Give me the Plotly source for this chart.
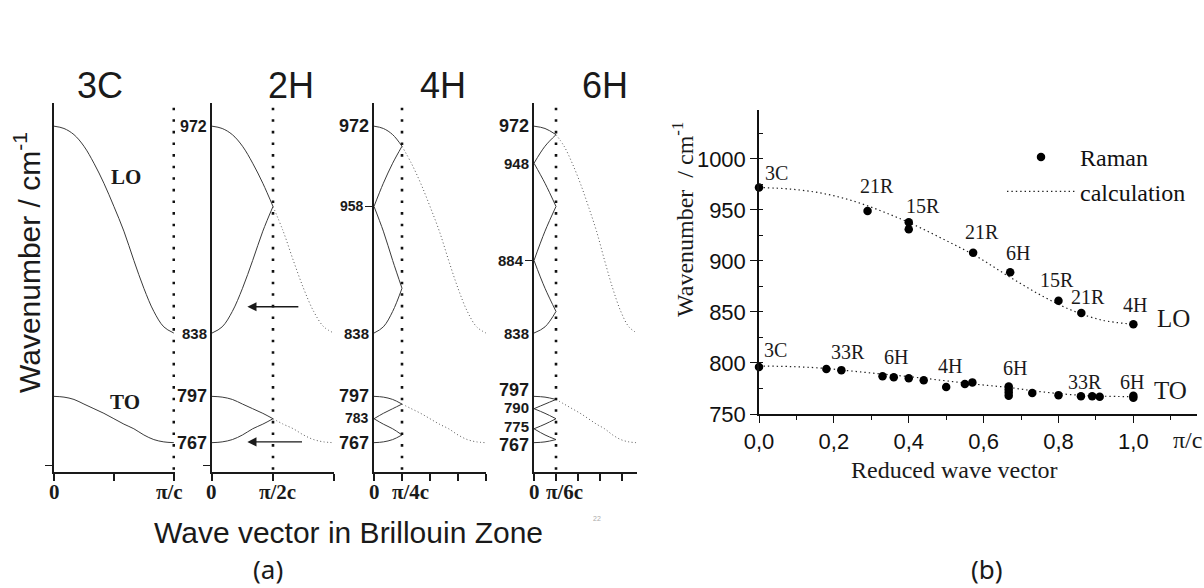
import plotly.graph_objects as go

W, H = 1204, 588
SANS = "Liberation Sans, Arial, sans-serif"
SERIF = "Liberation Serif, Times New Roman, serif"

# ---------------- data ----------------
# reduced wave vector (units of pi/c) sampled in twelfths
q_grid = [0, 1/12, 2/12, 3/12, 4/12, 5/12, 6/12, 7/12, 8/12, 9/12, 10/12, 11/12, 1]
# calculated 3C dispersion of the LO and TO branches (cm-1)
lo_calc = [972, 970.5, 966.5, 959, 948, 935, 920, 904, 885, 867, 852, 842, 838]
to_calc = [797, 796.5, 795, 792, 789, 786, 782.5, 779, 776, 772, 769, 767.5, 767]

polytypes = ["3C", "2H", "4H", "6H"]
layers = [1, 2, 4, 6]
boundary_text = ["π/c", "π/2c", "π/4c", "π/6c"]

# frequency labels on each polytype axis: text, height on axis, font size
freq_labels = {
    "2H": (["972", "838", "797", "767"], [972, 838, 797, 767], [16, 15, 18, 18]),
    "4H": (["972", "958", "838", "797", "783", "767"], [972, 920, 838, 797, 783, 767], [18, 14, 15, 18, 14, 18]),
    "6H": (["972", "948", "884", "838", "797", "790", "775", "767"],
           [972, 948, 885, 838, 797, 790, 776, 767], [18, 15, 15, 15, 18, 15, 15, 18]),
}
freq_label_shift = {"6H": [0, 0, 0, 0, 6, 0, 2, -2]}

# Raman measurements (reduced wave vector, wavenumber)
raman_lo_q = [0.0, 0.29, 0.40, 0.40, 0.572, 0.671, 0.80, 0.861, 1.0]
raman_lo_w = [972, 949, 938, 931, 908, 889, 861, 849, 838]
raman_to_q = [0.0, 0.18, 0.22, 0.33, 0.36, 0.40, 0.44, 0.50, 0.55, 0.57,
              0.667, 0.667, 0.667, 0.667, 0.73, 0.80, 0.86, 0.89, 0.91, 1.0, 1.0]
raman_to_w = [796, 794, 793, 787, 786, 785, 783, 776.5, 779.5, 781,
              777, 774, 771, 768, 770.5, 768.5, 767.5, 767.5, 767, 768, 766]

lo_names = ["3C", "21R", "15R", "21R", "6H", "15R", "21R", "4H"]
lo_name_pos = [(0.048, 986), (0.316, 973.5), (0.438, 954), (0.596, 928.4),
               (0.693, 907.8), (0.797, 881.4), (0.88, 864.7), (1.005, 857)]
to_names = ["3C", "33R", "6H", "4H", "6H", "33R", "6H"]
to_name_pos = [(0.043, 812.7), (0.238, 810.8), (0.366, 805.9), (0.511, 797),
               (0.684, 795), (0.872, 781.4), (0.997, 781.4)]

b_xticks = [0.0, 0.2, 0.4, 0.6, 0.8, 1.0]
b_xticktext = ["0,0", "0,2", "0,4", "0,6", "0,8", "1,0"]
b_yticks = [750, 800, 850, 900, 950, 1000]

# ---------------- layout helpers ----------------
def fx(px):
    return px / W


def fy(py):
    return 1 - py / H


def label(text, x, y, size, family, xref="paper", yref="paper", **kw):
    d = dict(text=text, xref=xref, yref=yref, x=x, y=y, showarrow=False,
             xanchor="center", yanchor="middle",
             font=dict(family=family, size=size, color="#1a1a1a"))
    d.update(kw)
    return d


# panel (a) geometry in pixels: axis left, axis right, x range max
a_panels = {
    "3C": (54, 175, 1.01),
    "2H": (212, 334, 1.0),
    "4H": (374, 486, 1.0),
    "6H": (534, 637, 0.78),
}
a_title_x = {"3C": 99.5, "2H": 291, "4H": 443, "6H": 605}
a_top, a_bottom = 103, 472
a_yrange = [748, 987]
a_xticks = {
    "3C": [0, 0.5, 1],
    "2H": [0, 0.5, 1],
    "4H": [0, 0.25, 0.5, 0.75, 1],
    "6H": [0, 1/6, 2/6, 3/6, 4/6],
}
a_yticks = {"3C": [752], "2H": [752], "4H": [920], "6H": [885]}

CURVE = "#3a3a3a"
fig = go.Figure()
layout = dict(
    template="none",
    width=W, height=H, margin=dict(l=0, r=0, t=0, b=0, pad=0, autoexpand=False),
    paper_bgcolor="white", plot_bgcolor="rgba(0,0,0,0)",
    showlegend=True,
)
annotations = []


def fold(n, values):
    """Zone-folded branches of a dispersion curve for an n-layer polytype."""
    step = 12 // n
    out = []
    for j in range(n):
        idx = range(j * step, (j + 1) * step + 1)
        qs = [q_grid[i] for i in idx]
        vs = [values[i] for i in idx]
        if j % 2 == 0:
            xs = [q - j / n for q in qs]
        else:
            xs = [(j + 1) / n - q for q in qs]
        out.append((xs, vs))
    return out


for k, (name, n, btxt) in enumerate(zip(polytypes, layers, boundary_text)):
    s = "" if k == 0 else str(k + 1)
    left, right, xmax = a_panels[name]
    xa, ya = "x" + s, "y" + s
    layout["xaxis" + s] = dict(
        domain=[fx(left), fx(right)], range=[0, xmax], anchor=ya,
        showline=True, linecolor="#1a1a1a", linewidth=1.5,
        ticks="outside", ticklen=7, tickwidth=1.5, tickcolor="#1a1a1a",
        tickvals=a_xticks[name], showticklabels=False, automargin=False,
        showgrid=False, zeroline=False, fixedrange=True,
    )
    layout["yaxis" + s] = dict(
        domain=[fy(a_bottom), fy(a_top)], range=a_yrange, anchor=xa,
        showline=True, linecolor="#1a1a1a", linewidth=1.8,
        ticks="outside", ticklen=7, tickwidth=1.3, tickcolor="#1a1a1a",
        tickvals=a_yticks[name], showticklabels=False, automargin=False,
        showgrid=False, zeroline=False, fixedrange=True,
    )

    # folded (solid) branches
    for values in (lo_calc, to_calc):
        for xs, vs in fold(n, values):
            fig.add_trace(go.Scatter(
                x=xs, y=vs, mode="lines", xaxis=xa, yaxis=ya,
                line=dict(color=CURVE, width=1, shape="spline"),
                showlegend=False, hoverinfo="skip"))
        # unfolded continuation beyond the zone boundary (dotted)
        if n > 1:
            step = 12 // n
            qs = q_grid[step:]
            vs = values[step:]
            b = 1 / n
            squeeze = (xmax - b) / (1 - b)
            xs = [b + (q - b) * squeeze for q in qs]
            fig.add_trace(go.Scatter(
                x=xs, y=vs, mode="lines", xaxis=xa, yaxis=ya,
                line=dict(color="#555555", width=1, dash="1px,2.5px", shape="spline"),
                showlegend=False, hoverinfo="skip"))

    # zone boundary
    b = 1 / n
    fig.add_trace(go.Scatter(
        x=[b, b], y=[984, 748], mode="lines", xaxis=xa, yaxis=ya,
        line=dict(color="#111111", width=2.6, dash="2.6px,9px"),
        showlegend=False, hoverinfo="skip"))

    # polytype title
    annotations.append(label(name, fx(a_title_x[name]), fy(85), 36, SANS))

    # wave-vector labels under the axis
    annotations.append(label("<b>0</b>", 0, fy(492), 21, SERIF, xref=xa))
    if n <= 2:
        annotations.append(label("<b>%s</b>" % btxt, b, fy(492), 21, SERIF, xref=xa,
                                 xshift=-4 if n == 1 else 4))
    else:
        annotations.append(label("<b>%s</b>" % btxt, b, fy(492), 21, SERIF, xref=xa,
                                 xanchor="left", xshift=-12))

    # frequency labels
    if name in freq_labels:
        texts, vals, sizes = freq_labels[name]
        shifts = freq_label_shift.get(name, [0] * len(texts))
        for t, v, fs, sh in zip(texts, vals, sizes, shifts):
            annotations.append(label(
                "<b>%s</b>" % t, 0, v, fs, SANS, xref=xa, yref=ya,
                xanchor="right", xshift=-3 if v not in a_yticks[name] else -8, yshift=sh))

# branch names in the 3C panel
annotations.append(label("<b>LO</b>", 0.6, 939, 21, SERIF, xref="x", yref="y"))
annotations.append(label("<b>TO</b>", 0.59, 793.5, 21, SERIF, xref="x", yref="y"))

# folding arrows in the 2H panel
for y_arrow, x_tail in ((855, 0.72), (767.5, 0.75)):
    annotations.append(dict(
        text="", xref="x2", yref="y2", x=0.29, y=y_arrow,
        axref="x2", ayref="y2", ax=x_tail, ay=y_arrow,
        showarrow=True, arrowhead=2, arrowsize=1.3, arrowwidth=1.4,
        arrowcolor="#1a1a1a"))

# panel (a) axis titles
annotations.append(label("Wavenumber / cm<sup>-1</sup>", fx(27), fy(263), 30, SANS, textangle=-90))
annotations.append(label("Wave vector in Brillouin Zone", fx(348), fy(532), 30, SANS))
small = label("22", fx(597), fy(518), 7, SANS)
small["font"]["color"] = "#aaaaaa"
annotations.append(small)

# ---------------- panel (b) ----------------
layout["xaxis5"] = dict(
    domain=[fx(759), fx(1197)], range=[0, 1.17], anchor="y5",
    showline=True, linecolor="#111", linewidth=1.5,
    ticks="outside", ticklen=7, tickwidth=1.3, tickcolor="#111",
    tickvals=b_xticks, ticktext=b_xticktext, automargin=False,
    minor=dict(ticks="outside", ticklen=4, tickwidth=1.2, tickcolor="#111", dtick=0.1, tick0=0),
    tickfont=dict(family=SANS, size=22, color="#111"),
    showgrid=False, zeroline=False, fixedrange=True,
)
layout["yaxis5"] = dict(
    domain=[fy(414), fy(110)], range=[750, 1048], anchor="x5",
    showline=True, linecolor="#111", linewidth=1.5,
    ticks="outside", ticklen=7, tickwidth=1.3, tickcolor="#111",
    tickvals=b_yticks, automargin=False,
    minor=dict(ticks="inside", ticklen=4, tickwidth=1.2, tickcolor="#111", dtick=25, tick0=750),
    tickfont=dict(family=SANS, size=22, color="#111"),
    showgrid=False, zeroline=False, fixedrange=True,
)

for i, (vals, qs, ws) in enumerate(((lo_calc, raman_lo_q, raman_lo_w),
                                    (to_calc, raman_to_q, raman_to_w))):
    fig.add_trace(go.Scatter(
        x=q_grid, y=vals, mode="lines", xaxis="x5", yaxis="y5",
        line=dict(color="#222", width=1.2, dash="1.4px,3px", shape="spline"),
        name="calculation", legendgroup="calc", showlegend=(i == 0),
        legendrank=2, hoverinfo="skip"))
    fig.add_trace(go.Scatter(
        x=qs, y=ws, mode="markers", xaxis="x5", yaxis="y5",
        marker=dict(color="#000", size=8.5), cliponaxis=False,
        name="Raman", legendgroup="raman", showlegend=(i == 0),
        legendrank=1, hoverinfo="skip"))

for names, pos in ((lo_names, lo_name_pos), (to_names, to_name_pos)):
    for t, (x, y) in zip(names, pos):
        annotations.append(label(t, x, y, 20, SERIF, xref="x5", yref="y5"))
annotations.append(label("LO", 1.107, 844, 25, SERIF, xref="x5", yref="y5"))
annotations.append(label("TO", 1.099, 773.5, 25, SERIF, xref="x5", yref="y5"))
annotations.append(label("π/c", fx(1187), fy(440), 24, SERIF))
annotations.append(label("Wavenumber&nbsp; / cm<sup>-1</sup>", fx(683), fy(220), 24, SERIF, textangle=-90))
annotations.append(label("Reduced wave vector", fx(955), fy(470), 24, SERIF))

# panel captions
annotations.append(label("(a)", fx(268), fy(569), 26, "Noto Sans, Open Sans, sans-serif"))
annotations.append(label("(b)", fx(987), fy(569), 26, "Noto Sans, Open Sans, sans-serif"))

layout["legend"] = dict(
    x=fx(1002), y=fy(135), xanchor="left", yanchor="top",
    font=dict(family=SERIF, size=24, color="#111"),
    itemwidth=68, bgcolor="rgba(0,0,0,0)", borderwidth=0,
    traceorder="normal", tracegroupgap=2,
)
layout["annotations"] = annotations
fig.update_layout(**layout)
fig.write_html("out.html")
